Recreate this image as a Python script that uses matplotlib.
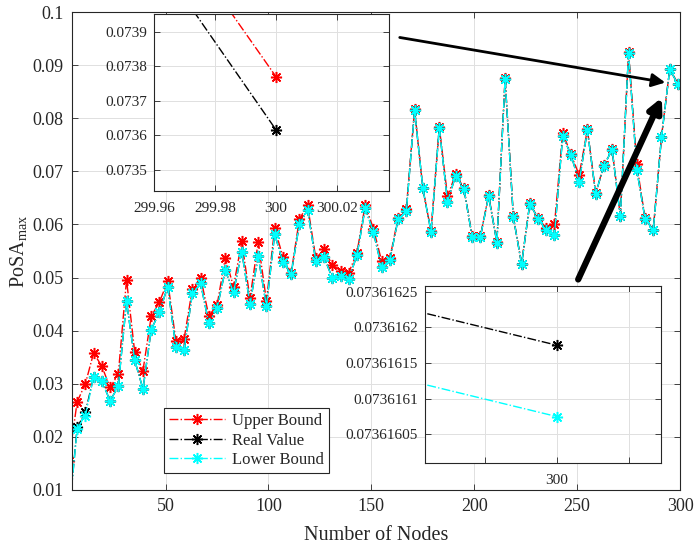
import numpy as np
import matplotlib
matplotlib.use('Agg')
import matplotlib.pyplot as plt

plt.rcParams['font.family'] = ['Liberation Serif', 'DejaVu Serif']
plt.rcParams['mathtext.fontset'] = 'custom'
plt.rcParams['mathtext.rm'] = 'Liberation Serif'

# number of nodes (every 4th, last one 299)
nodes = np.arange(3, 300, 4)

upper = [0.0155, 0.0266, 0.0300, 0.0358, 0.0333, 0.0293, 0.0318, 0.0496, 0.0359, 0.0325,
         0.0427, 0.0454, 0.0493, 0.0381, 0.0385, 0.0479, 0.0500, 0.0428, 0.0448, 0.0537,
         0.0483, 0.0568, 0.0461, 0.0567, 0.0456, 0.0593, 0.0539, 0.0508, 0.0610, 0.0636,
         0.0536, 0.0553, 0.0524, 0.0513, 0.0509, 0.0547, 0.0637, 0.0592, 0.0531, 0.0537,
         0.0613, 0.0630, 0.0817, 0.0669, 0.0587, 0.0784, 0.0653, 0.0695, 0.0668, 0.0578,
         0.0578, 0.0655, 0.0567, 0.0875, 0.0615, 0.0526, 0.0640, 0.0612, 0.0593, 0.0600,
         0.0773, 0.0732, 0.0693, 0.0779, 0.0659, 0.0711, 0.0742, 0.0616, 0.0924, 0.0713,
         0.0612, 0.0590, 0.0765, 0.0893, 0.0865]
real = [0.0050, 0.0218, 0.0246, 0.0313, 0.0305, 0.0268, 0.0295, 0.0455, 0.0344, 0.0290,
        0.0402, 0.0435, 0.0483, 0.0369, 0.0364, 0.0470, 0.0489, 0.0414, 0.0442, 0.0514,
        0.0472, 0.0549, 0.0450, 0.0540, 0.0446, 0.0582, 0.0529, 0.0507, 0.0600, 0.0627,
        0.0531, 0.0539, 0.0499, 0.0503, 0.0497, 0.0542, 0.0631, 0.0585, 0.0519, 0.0533,
        0.0610, 0.0625, 0.0815, 0.0668, 0.0586, 0.0782, 0.0643, 0.0692, 0.0667, 0.0576,
        0.0577, 0.0653, 0.0566, 0.0874, 0.0614, 0.0525, 0.0639, 0.0611, 0.0589, 0.0581,
        0.0767, 0.0731, 0.0680, 0.0778, 0.0658, 0.0710, 0.0741, 0.0615, 0.0923, 0.0703,
        0.0611, 0.0589, 0.0764, 0.0892, 0.0864]
lower = [0.0050, 0.0215, 0.0240, 0.0313, 0.0305, 0.0268, 0.0295, 0.0455, 0.0344, 0.0290,
         0.0402, 0.0435, 0.0483, 0.0369, 0.0364, 0.0470, 0.0489, 0.0414, 0.0442, 0.0514,
         0.0472, 0.0549, 0.0450, 0.0540, 0.0446, 0.0582, 0.0529, 0.0507, 0.0600, 0.0627,
         0.0531, 0.0539, 0.0499, 0.0503, 0.0497, 0.0542, 0.0631, 0.0585, 0.0519, 0.0533,
         0.0610, 0.0625, 0.0815, 0.0668, 0.0586, 0.0782, 0.0643, 0.0692, 0.0667, 0.0576,
         0.0577, 0.0653, 0.0566, 0.0874, 0.0614, 0.0525, 0.0639, 0.0611, 0.0589, 0.0581,
         0.0767, 0.0731, 0.0680, 0.0778, 0.0658, 0.0710, 0.0741, 0.0615, 0.0923, 0.0703,
         0.0611, 0.0589, 0.0764, 0.0892, 0.0864]

# zoomed views around the last point
zoom1_x = [299.9, 300.0]
zoom1_upper = [0.07503, 0.07377]
zoom1_real = [0.07489, 0.073616]
zoom2_x = [299.98, 300.0]
zoom2_real = [0.073616224, 0.073616175]
zoom2_lower = [0.073616124, 0.073616075]

labels = ['Upper Bound', 'Real Value', 'Lower Bound']
colors = ['#ff0000', '#000000', '#00ffff']
ink = '#262626'
mk = dict(marker=(8, 2, 0), ms=8, mew=1.1, lw=1.0, ls='-.')


def style(ax, fs, pad):
    ax.tick_params(direction='in', top=True, right=True, labelsize=fs,
                   colors=ink, length=4, width=0.6, pad=pad)
    for s in ax.spines.values():
        s.set_color(ink)
        s.set_linewidth(0.8)
    ax.grid(True, color='#e0e0e0', lw=0.7)
    ax.set_axisbelow(True)


fig = plt.figure(figsize=(6.94, 5.5), dpi=100)
ax = fig.add_axes([72/694, 60/550, 608/694, 478/550])
for ys, c, lab in zip([upper, real, lower], colors, labels):
    ax.plot(nodes, ys, color=c, label=lab, **mk)
ax.set_xlim(4.5, 300)
ax.set_ylim(0.01, 0.1)
ax.set_xticks([50, 100, 150, 200, 250, 300])
ax.set_yticks(np.arange(0.01, 0.1001, 0.01))
ax.set_yticklabels(['0.01', '0.02', '0.03', '0.04', '0.05', '0.06', '0.07', '0.08', '0.09', '0.1'])
style(ax, 13, 6)
ax.set_xlabel('Number of Nodes', fontsize=14.5, color=ink, labelpad=8)
ax.set_ylabel('PoSA$_{\\mathrm{max}}$', fontsize=14.5, color=ink, labelpad=2)
leg = ax.legend(loc='lower left', bbox_to_anchor=(0.151, 0.0356), borderaxespad=0,
                fancybox=False, edgecolor=ink, framealpha=1, fontsize=12,
                handlelength=3.4, borderpad=0.3, labelspacing=0.2, handletextpad=0.4)
leg.get_frame().set_linewidth(0.8)
for t in leg.get_texts():
    t.set_color(ink)

# inset 1
ax1 = fig.add_axes([154/694, (550-191)/550, 235/694, 177/550])
ax1.plot(zoom1_x, zoom1_upper, color=colors[0], **mk)
ax1.plot(zoom1_x, zoom1_real, color=colors[1], **mk)
ax1.set_xlim(299.96, 300.037)
ax1.set_ylim(0.073439, 0.073952)
ax1.set_xticks([299.96, 299.98, 300.0, 300.02])
ax1.set_xticklabels(['299.96', '299.98', '300', '300.02'])
ax1.set_yticks([0.0735, 0.0736, 0.0737, 0.0738, 0.0739])
ax1.set_yticklabels(['0.0735', '0.0736', '0.0737', '0.0738', '0.0739'])
style(ax1, 11, 5)
ax1.tick_params(axis='x', pad=8)

# inset 2
ax2 = fig.add_axes([425/694, (550-463)/550, 236/694, 177/550])
ax2.plot(zoom2_x, zoom2_real, color=colors[1], **mk)
ax2.plot(zoom2_x, zoom2_lower, color=colors[2], **mk)
ax2.set_xlim(300 - 0.01833, 300 + 0.01444)
ax2.set_ylim(0.07361601, 0.073616258)
ax2.set_xticks([299.99, 300.0, 300.01])
ax2.set_xticklabels(['', '300', ''])
ax2.set_yticks([0.07361605, 0.0736161, 0.07361615, 0.0736162, 0.07361625])
ax2.set_yticklabels(['0.07361605', '0.0736161', '0.07361615', '0.0736162', '0.07361625'])
style(ax2, 11, 5)
ax2.tick_params(axis='x', pad=8)

# pointer arrows
ax.annotate('', xy=(668/694, 467/550), xytext=(397/694, 513/550),
            xycoords='figure fraction', textcoords='figure fraction',
            arrowprops=dict(arrowstyle='-|>', color='k', lw=2, mutation_scale=20))
ax.annotate('', xy=(663/694, 455/550), xytext=(577/694, 268/550),
            xycoords='figure fraction', textcoords='figure fraction',
            arrowprops=dict(arrowstyle='-|>', color='k', lw=4.5, mutation_scale=20))

fig.savefig('out.png', dpi=100)
